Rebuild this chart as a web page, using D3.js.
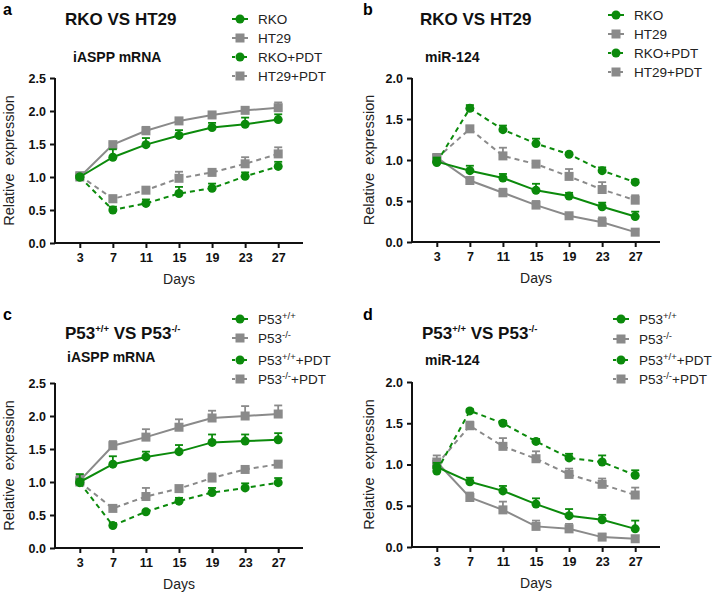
<!DOCTYPE html>
<html><head><meta charset="utf-8">
<script src="https://cdn.jsdelivr.net/npm/d3@7"></script>
<style>body{margin:0;background:#fff}svg{display:block;font-family:"Liberation Sans",Arial,sans-serif}</style>
</head><body>
<svg id="c" width="716" height="597"></svg>
<script>
const days = [3, 7, 11, 15, 19, 23, 27];
const xTicks = [3, 7, 11, 15, 19, 23, 27];
const yTicksMRNA = [0, 0.5, 1.0, 1.5, 2.0, 2.5];
const yTicksMIR = [0, 0.5, 1.0, 1.5, 2.0];

// Panel a: RKO vs HT29, iASPP mRNA
const aRKO      = [1.00, 1.30, 1.49, 1.63, 1.75, 1.80, 1.87];
const aRKOErr   = [0.03, 0.12, 0.10, 0.08, 0.07, 0.10, 0.08];
const aHT29     = [1.00, 1.49, 1.70, 1.85, 1.94, 2.01, 2.05];
const aHT29Err  = [0.03, 0.03, 0.06, 0.03, 0.03, 0.04, 0.08];
const aRKOp     = [1.00, 0.50, 0.60, 0.75, 0.83, 1.01, 1.16];
const aRKOpErr  = [0.02, 0.05, 0.06, 0.10, 0.07, 0.06, 0.07];
const aHT29p    = [1.02, 0.67, 0.80, 0.98, 1.07, 1.20, 1.35];
const aHT29pErr = [0.03, 0.05, 0.03, 0.10, 0.04, 0.10, 0.10];

// Panel b: RKO vs HT29, miR-124
const bRKO      = [0.98, 0.87, 0.78, 0.63, 0.56, 0.43, 0.31];
const bRKOErr   = [0.05, 0.06, 0.05, 0.08, 0.04, 0.05, 0.06];
const bHT29     = [1.03, 0.75, 0.60, 0.45, 0.32, 0.24, 0.12];
const bHT29Err  = [0.04, 0.03, 0.05, 0.05, 0.02, 0.06, 0.03];
const bRKOp     = [0.97, 1.63, 1.37, 1.20, 1.07, 0.87, 0.73];
const bRKOpErr  = [0.05, 0.04, 0.05, 0.06, 0.02, 0.04, 0.03];
const bHT29p    = [1.02, 1.38, 1.05, 0.95, 0.80, 0.64, 0.51];
const bHT29pErr = [0.05, 0.03, 0.10, 0.03, 0.09, 0.09, 0.06];

// Panel c: P53+/+ vs P53-/-, iASPP mRNA
const cWT       = [1.00, 1.27, 1.38, 1.46, 1.60, 1.62, 1.64];
const cWTErr    = [0.12, 0.12, 0.08, 0.10, 0.12, 0.10, 0.10];
const cKO       = [1.02, 1.55, 1.68, 1.83, 1.97, 2.00, 2.03];
const cKOErr    = [0.08, 0.07, 0.12, 0.12, 0.11, 0.15, 0.13];
const cWTp      = [0.99, 0.34, 0.55, 0.71, 0.84, 0.91, 0.99];
const cWTpErr   = [0.05, 0.04, 0.02, 0.05, 0.07, 0.07, 0.07];
const cKOp      = [1.00, 0.60, 0.78, 0.90, 1.06, 1.19, 1.27];
const cKOpErr   = [0.04, 0.03, 0.13, 0.03, 0.07, 0.03, 0.03];

// Panel d: P53+/+ vs P53-/-, miR-124
const dWT       = [0.97, 0.79, 0.68, 0.52, 0.38, 0.33, 0.22];
const dWTErr    = [0.05, 0.05, 0.06, 0.07, 0.08, 0.06, 0.10];
const dKO       = [1.03, 0.60, 0.45, 0.25, 0.22, 0.12, 0.10];
const dKOErr    = [0.08, 0.06, 0.10, 0.07, 0.06, 0.04, 0.03];
const dWTp      = [0.92, 1.65, 1.50, 1.28, 1.08, 1.03, 0.87];
const dWTpErr   = [0.03, 0.02, 0.03, 0.03, 0.05, 0.08, 0.06];
const dKOp      = [1.00, 1.47, 1.22, 1.07, 0.88, 0.76, 0.63];
const dKOpErr   = [0.05, 0.05, 0.10, 0.09, 0.07, 0.07, 0.09];

const GREEN = "#0b8a0b", GRAY = "#8a8a8a";
const svg = d3.select("#c");

const namesRKO = [["RKO"],["HT29"],["RKO+PDT"],["HT29+PDT"]];
const namesP53 = [[["P53",""],["+/+","sup"]],[["P53",""],["-/-","sup"]],[["P53",""],["+/+","sup"],["+PDT",""]],[["P53",""],["-/-","sup"],["+PDT",""]]];

const panels = [
  {letter:"a", ox:0, oy:0, x0:55, x1:303, yb:243, yt:78, ymax:2.5, yticks:yTicksMRNA, sub:"iASPP mRNA",
   title:[["RKO VS HT29",""]], names:namesRKO,
   series:[[aRKO,aRKOErr],[aHT29,aHT29Err],[aRKOp,aRKOpErr],[aHT29p,aHT29pErr]],
   titleX:65, titleY:25, subX:73, subY:62, legX:232, legY:[19,38,57,76]},
  {letter:"b", ox:360, oy:0, x0:412, x1:660, yb:242, yt:78, ymax:2.0, yticks:yTicksMIR, sub:"miR-124",
   title:[["RKO VS HT29",""]], names:namesRKO,
   series:[[bRKO,bRKOErr],[bHT29,bHT29Err],[bRKOp,bRKOpErr],[bHT29p,bHT29pErr]],
   titleX:420, titleY:25, subX:425, subY:62, legX:608, legY:[15,34,53,72]},
  {letter:"c", ox:0, oy:305, x0:55, x1:303, yb:548, yt:383, ymax:2.5, yticks:yTicksMRNA, sub:"iASPP mRNA",
   title:[["P53",""],["+/+","sup"],[" VS P53",""],["-/-","sup"]], names:namesP53,
   series:[[cWT,cWTErr],[cKO,cKOErr],[cWTp,cWTpErr],[cKOp,cKOpErr]],
   titleX:65, titleY:339, subX:67, subY:362, legX:232, legY:[319,338,360,379]},
  {letter:"d", ox:360, oy:305, x0:412, x1:660, yb:547, yt:382, ymax:2.0, yticks:yTicksMIR, sub:"miR-124",
   title:[["P53",""],["+/+","sup"],[" VS P53",""],["-/-","sup"]], names:namesP53,
   series:[[dWT,dWTErr],[dKO,dKOErr],[dWTp,dWTpErr],[dKOp,dKOpErr]],
   titleX:422, titleY:339, subX:425, subY:365, legX:613, legY:[319,339,360,379]}
];
const styles = [
  {color:GREEN, shape:"circle", dash:null},
  {color:GRAY, shape:"square", dash:null},
  {color:GREEN, shape:"circle", dash:"5,4"},
  {color:GRAY, shape:"square", dash:"5,4"}
];

function richText(g, parts, x, y, size, weight, supSize){
  const t = g.append("text").attr("x", x).attr("y", y).attr("font-size", size).attr("font-weight", weight).attr("fill","#111");
  let shifted = 0;
  parts.forEach(p=>{
    const s = t.append("tspan").text(p[0]);
    if(p[1]==="sup"){ s.attr("font-size", supSize).attr("dy", -size*0.4 - shifted); shifted = -size*0.4; }
    else if(shifted!==0){ s.attr("dy", -shifted); shifted = 0; }
  });
  return t;
}

function marker(g, shape, cx, cy, color){
  if(shape==="circle") g.append("circle").attr("cx",cx).attr("cy",cy).attr("r",4.5).attr("fill",color);
  else g.append("rect").attr("x",cx-4.5).attr("y",cy-4.5).attr("width",9).attr("height",9).attr("fill",color);
}

panels.forEach(p=>{
  const g = svg.append("g");
  const x = d3.scaleLinear().domain([0,30]).range([p.x0,p.x1]);
  const y = d3.scaleLinear().domain([0,p.ymax]).range([p.yb,p.yt]);

  g.append("text").attr("x", p.ox+3).attr("y", p.oy+15).attr("font-size",16).attr("font-weight","bold").text(p.letter);
  richText(g, p.title, p.titleX, p.titleY, 17, "bold", 9.5);
  g.append("text").attr("x", p.subX).attr("y", p.subY).attr("font-size",14).attr("font-weight","bold").attr("fill","#111").text(p.sub);

  // axes
  const yAxis = d3.axisLeft(y).tickValues(p.yticks).tickFormat(d3.format(".1f")).tickSize(5).tickPadding(4);
  const ya = g.append("g").attr("transform",`translate(${p.x0},0)`).call(yAxis);
  const xAxis = d3.axisBottom(x).tickValues(xTicks).tickSize(5).tickPadding(5);
  const xa = g.append("g").attr("transform",`translate(0,${p.yb})`).call(xAxis);
  [ya,xa].forEach(a=>{
    a.select(".domain").attr("stroke","#111").attr("stroke-width",2);
    a.selectAll(".tick line").attr("stroke","#111").attr("stroke-width",2);
    a.selectAll(".tick text").attr("font-size",12.5).attr("font-weight","bold").attr("fill","#111").attr("font-family","Liberation Sans, Arial, sans-serif");
  });
  ya.select(".domain").attr("d",`M-0,${p.yb}V${p.yt}`);
  xa.select(".domain").attr("d",`M${p.x0},0H${p.x1}`);

  g.append("text").attr("transform",`translate(${p.ox+14},${(p.yb+p.yt)/2}) rotate(-90)`).attr("text-anchor","middle")
    .attr("font-size",14.5).attr("fill","#222").attr("xml:space","preserve").text("Relative  expression");
  g.append("text").attr("x",(p.x0+p.x1)/2).attr("y",p.yb+41).attr("text-anchor","middle").attr("font-size",14).attr("fill","#222").text("Days");

  // series
  const line = d3.line().x((d,i)=>x(days[i])).y(d=>y(d));
  [1,3,0,2].forEach(si=>{
    const st = styles[si]; const [vals, errs] = p.series[si];
    const sg = g.append("g");
    sg.append("path").attr("d", line(vals)).attr("fill","none").attr("stroke",st.color).attr("stroke-width",2)
      .attr("stroke-dasharray", st.dash);
    vals.forEach((v,i)=>{
      const cx = x(days[i]), top = y(v+errs[i]);
      sg.append("line").attr("x1",cx).attr("x2",cx).attr("y1",y(v)).attr("y2",top).attr("stroke",st.color).attr("stroke-width",1.8);
      sg.append("line").attr("x1",cx-4).attr("x2",cx+4).attr("y1",top).attr("y2",top).attr("stroke",st.color).attr("stroke-width",1.8);
      marker(sg, st.shape, cx, y(v), st.color);
    });
  });

  // legend
  p.names.forEach((nm,i)=>{
    const st = styles[i]; const ly = p.legY[i];
    g.append("line").attr("x1",p.legX).attr("x2",p.legX+16).attr("y1",ly).attr("y2",ly).attr("stroke",st.color).attr("stroke-width",2)
      .attr("stroke-dasharray", st.dash ? "3,3" : null);
    marker(g, st.shape, p.legX+8, ly, st.color);
    const parts = Array.isArray(nm[0]) ? nm : [[nm[0],""]];
    richText(g, parts, p.legX+26, ly+5, 13.5, "normal", 9.5).attr("fill","#222");
  });
});
</script>
</body></html>
